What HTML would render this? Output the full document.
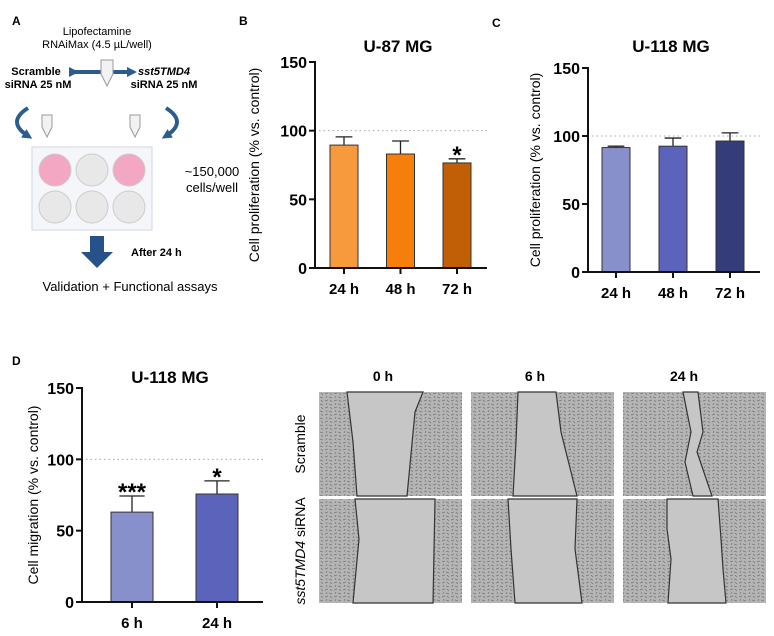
<!DOCTYPE html>
<html><head><meta charset="utf-8"><style>
html,body{margin:0;padding:0;background:#fff}
svg{display:block;font-family:"Liberation Sans",sans-serif}
</style></head><body>
<svg id="fig" width="774" height="636" viewBox="0 0 774 636">
<defs>
<pattern id="cells" width="9" height="7" patternUnits="userSpaceOnUse">
<rect width="9" height="7" fill="#b5b5b5"/>
<path d="M1 2 l3 -1 M5 5 l3 1 M2 6 l1 -2 M6 1 l2 2" stroke="#777" stroke-width="0.8"/>
</pattern>
<marker id="ah" markerWidth="10" markerHeight="10" refX="5" refY="5" orient="auto" markerUnits="userSpaceOnUse"><path d="M0 0 L10 5 L0 10z" fill="#2b5c8f"/></marker>
</defs>

<!-- Panel A -->
<g font-size="11">
<text x="12" y="25" font-weight="bold" font-size="12">A</text>
<text x="97" y="35" text-anchor="middle">Lipofectamine</text>
<text x="97" y="48" text-anchor="middle">RNAiMax (4.5 µL/well)</text>
<text x="36" y="75" text-anchor="middle" font-weight="bold">Scramble</text>
<text x="38" y="88" text-anchor="middle" font-weight="bold">siRNA 25 nM</text>
<text x="164" y="75" text-anchor="middle" font-weight="bold" font-style="italic">sst5TMD4</text>
<text x="164" y="88" text-anchor="middle" font-weight="bold">siRNA 25 nM</text>
<line x1="74" y1="72" x2="132" y2="72" stroke="#2b5c8f" stroke-width="4" marker-start="url(#ah)" marker-end="url(#ah)"/>
<path d="M101 60 h12 v14 l-6 12 l-6 -12z" fill="#f2f2f2" stroke="#999"/>
<path d="M28 108 q-22 14 0 28" fill="none" stroke="#2b5c8f" stroke-width="4" marker-end="url(#ah)"/>
<path d="M166 108 q22 14 0 28" fill="none" stroke="#2b5c8f" stroke-width="4" marker-end="url(#ah)"/>
<path d="M42 115 h10 v12 l-5 10 l-5 -10z" fill="#f2f2f2" stroke="#999"/>
<path d="M130 115 h10 v12 l-5 10 l-5 -10z" fill="#f2f2f2" stroke="#999"/>
<rect x="32" y="147" width="120" height="83" fill="#f4f6fa" stroke="#cfd6e3"/>
<circle cx="55" cy="170" r="16" fill="#f4a7c3" stroke="#ccc"/>
<circle cx="92" cy="170" r="16" fill="#e8e8e8" stroke="#ccc"/>
<circle cx="129" cy="170" r="16" fill="#f4a7c3" stroke="#ccc"/>
<circle cx="55" cy="207" r="16" fill="#e8e8e8" stroke="#ccc"/>
<circle cx="92" cy="207" r="16" fill="#e8e8e8" stroke="#ccc"/>
<circle cx="129" cy="207" r="16" fill="#e8e8e8" stroke="#ccc"/>
<text x="212" y="176" text-anchor="middle" font-size="13">~150,000</text>
<text x="212" y="192" text-anchor="middle" font-size="13">cells/well</text>
<path d="M90 236 h14 v16 h9 l-16 16 l-16 -16 h9z" fill="#26518a"/>
<text x="131" y="256" font-weight="bold">After 24 h</text>
<text x="130" y="291" text-anchor="middle" font-size="13">Validation + Functional assays</text>
</g>

<text x="239" y="25" font-weight="bold" font-size="12">B</text>
<text x="492" y="27" font-weight="bold" font-size="12">C</text>
<text x="12" y="365" font-weight="bold" font-size="12">D</text>

<g id="charts"></g>

<!-- Panel D images -->
<g id="wound">
<text x="383" y="381" text-anchor="middle" font-weight="bold" font-size="14">0 h</text>
<text x="535" y="381" text-anchor="middle" font-weight="bold" font-size="14">6 h</text>
<text x="684" y="381" text-anchor="middle" font-weight="bold" font-size="14">24 h</text>
<text transform="translate(305,444) rotate(-90)" text-anchor="middle" font-size="14">Scramble</text>
<text transform="translate(305,551) rotate(-90)" text-anchor="middle" font-size="14"><tspan font-style="italic">sst5TMD4</tspan> siRNA</text>
</g>
</svg>
<script>
const bCategories = ["24 h","48 h","72 h"];
const bValues = [89.5, 83, 76.5];
const bErrors = [6, 9.5, 3];
const bSig = ["", "", "*"];
const cCategories = ["24 h","48 h","72 h"];
const cValues = [91.5, 92.5, 96.3];
const cErrors = [1, 6, 6];
const cSig = ["", "", ""];
const dCategories = ["6 h","24 h"];
const dValues = [63, 75.7];
const dErrors = [11.3, 9.2];
const dSig = ["***", "*"];
const yTicks = [0, 50, 100, 150];

const NS = "http://www.w3.org/2000/svg";
const root = document.getElementById("charts");
function mk(tag, attrs, parent) {
  const e = document.createElementNS(NS, tag);
  for (const k in attrs) e.setAttribute(k, attrs[k]);
  (parent || root).appendChild(e);
  return e;
}
function chart(o) {
  const g = mk("g", {});
  
  
  const y = v => o.y0 - (v / 150) * (o.y0 - o.y150);
  const x = i => o.xs + i * o.step;
  const t = mk("text", {x: o.tx, y: o.ty, "text-anchor": "middle", "font-weight": "bold", "font-size": 17}, g);
  t.textContent = o.title;
  
  
  const yl = mk("text", {transform: `translate(${o.ylx},${(o.y0 + o.y150) / 2}) rotate(-90)`, "text-anchor": "middle", "font-size": 14}, g);
  yl.textContent = o.ylabel;
  
  
  const ref = mk("line", {x1: o.ax + 4, x2: o.xend, y1: y(100), y2: y(100), stroke: "#aaa", "stroke-dasharray": "1.5 3"}, g);
  
  
  o.vals.forEach((v, i) => {
    const cx = x(i);
    const top = y(v), et = y(v + o.errs[i]);
    const el = mk("line", {x1: cx, x2: cx, y1: top, y2: et, stroke: "#222", "stroke-width": 1.3}, g);
    
    
    const cap = mk("line", {x1: cx - o.bw * 0.3, x2: cx + o.bw * 0.3, y1: et, y2: et, stroke: "#222", "stroke-width": 1.3}, g);
    
    
    const r = mk("rect", {x: cx - o.bw / 2, y: top, width: o.bw, height: o.y0 - top, fill: o.colors[i], stroke: "#333", "stroke-width": 1}, g);
    
    
    if (o.sig[i]) {
      const s = mk("text", {x: cx, y: et + 4, "text-anchor": "middle", "font-weight": "bold", "font-size": 24}, g);
      s.textContent = o.sig[i];
      
      
    }
    const tk = mk("line", {x1: cx, x2: cx, y1: o.y0, y2: o.y0 + 6, stroke: "#111", "stroke-width": 2}, g);
    
    
    const lb = mk("text", {x: cx, y: o.y0 + 26, "text-anchor": "middle", "font-weight": "bold", "font-size": 15}, g);
    lb.textContent = o.cats[i];
    
    
  });
  yTicks.forEach(v => {
    const tk = mk("line", {x1: o.ax - 6, x2: o.ax, y1: y(v), y2: y(v), stroke: "#111", "stroke-width": 2}, g);
    
    
    const lb = mk("text", {x: o.ax - 8, y: y(v) + 6, "text-anchor": "end", "font-weight": "bold", "font-size": 16}, g);
    lb.textContent = v;
    
    
  });
  const ya = mk("line", {x1: o.ax, x2: o.ax, y1: o.y150 - 1, y2: o.y0 + 1, stroke: "#111", "stroke-width": 2}, g);
  
  
  const xa = mk("line", {x1: o.ax - 1, x2: o.xend, y1: o.y0, y2: o.y0, stroke: "#111", "stroke-width": 2}, g);
  
  
}
chart({name: "chart-b-u87", title: "U-87 MG", tx: 398, ty: 52, ax: 315, xend: 487, y0: 268, y150: 62, xs: 344, step: 56.5, bw: 28,
  vals: bValues, errs: bErrors, sig: bSig, cats: bCategories, colors: ["#F79A3E", "#F57F0A", "#C05F05"], ylx: 259, ylabel: "Cell proliferation (% vs. control)"});
chart({name: "chart-c-u118", title: "U-118 MG", tx: 671, ty: 52, ax: 588, xend: 760, y0: 272, y150: 68, xs: 616, step: 57, bw: 28,
  vals: cValues, errs: cErrors, sig: cSig, cats: cCategories, colors: ["#8890CC", "#5B63BA", "#353C7A"], ylx: 540, ylabel: "Cell proliferation (% vs. control)"});
chart({name: "chart-d-migration", title: "U-118 MG", tx: 170, ty: 383, ax: 82, xend: 263, y0: 602, y150: 388, xs: 132, step: 85, bw: 42,
  vals: dValues, errs: dErrors, sig: dSig, cats: dCategories, colors: ["#8890CC", "#5B63BA"], ylx: 38, ylabel: "Cell migration (% vs. control)"});

// wound images
const W = document.getElementById("wound");
const cols = [319, 471, 623], rows = [392, 499];
const gaps = [
  [[28,0,104,0,96,20,88,104,38,104,34,50],[47,0,85,0,90,40,106,104,42,104,45,50],[60,0,75,0,80,40,74,60,89,104,70,104,62,70,68,40]],
  [[36,0,116,0,114,104,34,104,40,40],[37,0,106,0,104,50,111,104,44,104,40,50],[44,0,95,0,98,40,100,70,103,104,45,104,48,60,44,30]]
];
rows.forEach((ry, r) => cols.forEach((cx, c) => {
  const im = mk("rect", {x: cx, y: ry, width: 143, height: 104, fill: "url(#cells)"}, W);
  
  
  const p = gaps[r][c];
  const pts = [];
  for (let i = 0; i < p.length; i += 2) pts.push((cx + p[i]) + "," + (ry + p[i + 1]));
  const pg = mk("polygon", {points: pts.join(" "), fill: "#c6c6c6", stroke: "#333", "stroke-width": 1.2}, W);
  
  
}));
</script>
</body></html>
